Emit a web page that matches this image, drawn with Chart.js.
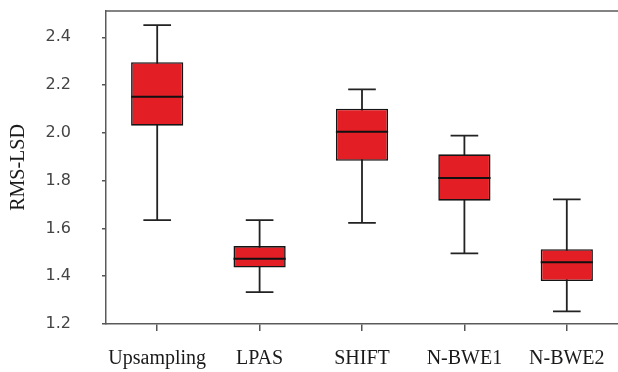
<!DOCTYPE html>
<html>
<head>
<meta charset="utf-8">
<script src="https://cdn.jsdelivr.net/npm/chart.js@4/dist/chart.umd.min.js"></script>
<style>
  html, body { margin: 0; padding: 0; background: #ffffff; }
  #wrap { width: 618px; height: 372px; }
</style>
</head>
<body>
<div id="wrap"><canvas id="c" width="618" height="372"></canvas></div>
<script>
const categories = ['Upsampling', 'LPAS', 'SHIFT', 'N-BWE1', 'N-BWE2'];
const whiskerLow  = [1.635, 1.333, 1.623, 1.496, 1.253];
const quartile1   = [2.030, 1.436, 1.883, 1.716, 1.380];
const medians     = [2.151, 1.473, 2.005, 1.811, 1.458];
const quartile3   = [2.296, 1.526, 2.101, 1.910, 1.513];
const whiskerHigh = [2.451, 1.635, 2.182, 1.988, 1.722];
const yTickValues = [1.2, 1.4, 1.6, 1.8, 2.0, 2.2, 2.4];

const boxData = categories.map((c, i) => [quartile1[i], quartile3[i]]);

const boxPlugin = {
  id: 'boxParts',
  beforeDatasetsDraw(chart) {
    const ctx = chart.ctx, x = chart.scales.x, y = chart.scales.y;
    const catW = (x.right - x.left) / categories.length;
    const capHalf = catW * 0.135;
    ctx.save();
    ctx.strokeStyle = '#222222';
    ctx.lineWidth = 1.8;
    categories.forEach((c, i) => {
      const cx = x.getPixelForValue(i);
      const yl = y.getPixelForValue(whiskerLow[i]);
      const yh = y.getPixelForValue(whiskerHigh[i]);
      ctx.beginPath();
      ctx.moveTo(cx, yl); ctx.lineTo(cx, yh);
      ctx.moveTo(cx - capHalf, yl); ctx.lineTo(cx + capHalf, yl);
      ctx.moveTo(cx - capHalf, yh); ctx.lineTo(cx + capHalf, yh);
      ctx.stroke();
    });
    ctx.restore();
  },
  afterDatasetsDraw(chart) {
    const ctx = chart.ctx, y = chart.scales.y;
    const meta = chart.getDatasetMeta(0);
    ctx.save();
    ctx.strokeStyle = '#111111';
    ctx.lineWidth = 2;
    meta.data.forEach((bar, i) => {
      const w = bar.width;
      const ym = y.getPixelForValue(medians[i]);
      ctx.beginPath();
      ctx.moveTo(bar.x - w / 2, ym); ctx.lineTo(bar.x + w / 2, ym);
      ctx.stroke();
    });
    // top frame line
    const a = chart.chartArea;
    ctx.strokeStyle = '#5a5a5a';
    ctx.lineWidth = 1.5;
    ctx.beginPath();
    ctx.moveTo(a.left, a.top); ctx.lineTo(a.right, a.top);
    ctx.stroke();
    ctx.restore();
  }
};

new Chart(document.getElementById('c'), {
  type: 'bar',
  data: {
    labels: categories,
    datasets: [{
      data: boxData,
      backgroundColor: '#E31E24',
      borderColor: '#151515',
      borderWidth: 1.6,
      borderSkipped: false,
      barPercentage: 0.51,
      categoryPercentage: 1.0
    }]
  },
  options: {
    responsive: false,
    animation: false,
    layout: { padding: { top: 11, right: 0, left: 0, bottom: 0 } },
    plugins: { legend: { display: false }, tooltip: { enabled: false } },
    scales: {
      x: {
        offset: true,
        grid: { display: true, offset: false, drawOnChartArea: false, drawTicks: true, tickLength: 7, color: '#555555', lineWidth: 1.5 },
        border: { display: true, color: '#5a5a5a', width: 1.5 },
        ticks: {
          autoSkip: false, maxRotation: 0, minRotation: 0,
          padding: 16,
          color: '#1a1a1a',
          font: { family: 'Liberation Serif', size: 20 }
        },
        afterFit(scale) {
          scale.height = 48;
          scale.paddingLeft = 0; scale.paddingRight = 0;
          scale.paddingTop = 0; scale.paddingBottom = 0;
        }
      },
      y: {
        min: 1.2, max: 2.51,
        grid: { display: true, drawOnChartArea: false, drawTicks: true, tickLength: 4, color: '#555555', lineWidth: 1.5 },
        border: { display: true, color: '#5a5a5a', width: 1.5 },
        afterBuildTicks(scale) { scale.ticks = yTickValues.map(v => ({ value: v })); },
        ticks: {
          padding: 31,
          color: '#444444',
          font: { family: 'DejaVu Sans', size: 16 },
          callback: (v) => Number(v).toFixed(1)
        },
        title: {
          display: true, text: 'RMS-LSD',
          color: '#1a1a1a',
          font: { family: 'Liberation Serif', size: 20 },
          padding: { top: 7, bottom: 0 }
        },
        afterFit(scale) {
          scale.width = 106;
          scale.paddingLeft = 0; scale.paddingRight = 0;
          scale.paddingTop = 0; scale.paddingBottom = 0;
        }
      }
    }
  },
  plugins: [boxPlugin]
});
</script>
</body>
</html>
